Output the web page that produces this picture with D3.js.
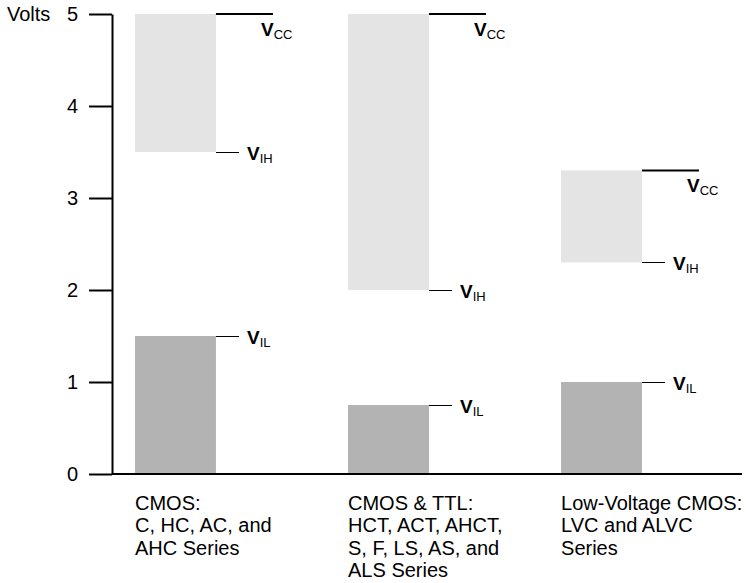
<!DOCTYPE html>
<html>
<head>
<meta charset="utf-8">
<script src="https://cdn.jsdelivr.net/npm/d3@7"></script>
<style>
  body { margin: 0; background: #fff; }
  svg { display: block; font-family: "Liberation Sans", Arial, Helvetica, sans-serif; }
</style>
</head>
<body>
<div id="chart"></div>
<script>
// Chart data
const categories = ["CMOS", "CMOS & TTL", "Low-Voltage CMOS"];
const categoryLines = [
    ["CMOS:", "C, HC, AC, and", "AHC Series"],
    ["CMOS & TTL:", "HCT, ACT, AHCT,", "S, F, LS, AS, and", "ALS Series"],
    ["Low-Voltage CMOS:", "LVC and ALVC", "Series"]
];
const vccValues = [5, 5, 3.3];
const vihValues = [3.5, 2, 2.3];
const vilValues = [1.5, 0.75, 1.0];
const yTicks = [0, 1, 2, 3, 4, 5];

const width = 746, height = 583;
const lightGray = '#e4e4e4', darkGray = '#b3b3b3';

const svg = d3.select('#chart')
    .append('svg')
    .attr('width', width)
    .attr('height', height);

// Scales
const yScale = d3.scaleLinear()
    .domain([0, 5])
    .range([474, 14]);

const xScale = d3.scaleBand()
    .domain(categories)
    .range([135, 642])
    .paddingInner(0.62)
    .paddingOuter(0);

const bw = xScale.bandwidth();

// High (light) bars: VIH up to VCC
svg.selectAll('.high-bar')
    .data(categories)
    .join('rect')
    .attr('class', 'high-bar')
    .attr('x', d => xScale(d))
    .attr('width', bw)
    .attr('y', (d, i) => yScale(vccValues[i]))
    .attr('height', (d, i) => yScale(vihValues[i]) - yScale(vccValues[i]))
    .attr('fill', lightGray);

// Low (dark) bars: 0 up to VIL
svg.selectAll('.low-bar')
    .data(categories)
    .join('rect')
    .attr('class', 'low-bar')
    .attr('x', d => xScale(d))
    .attr('width', bw)
    .attr('y', (d, i) => yScale(vilValues[i]))
    .attr('height', (d, i) => yScale(0) - yScale(vilValues[i]))
    .attr('fill', darkGray);

// Level marker lines and labels
function addLabel(x, y, sub) {
    const t = svg.append('text')
        .attr('x', x)
        .attr('y', y)
        .attr('fill', '#000');
    t.append('tspan')
        .attr('font-weight', 'bold')
        .attr('font-size', 19)
        .text('V');
    t.append('tspan')
        .attr('font-size', 13)
        .attr('dy', 3)
        .text(sub);
}

categories.forEach((c, i) => {
    const x1 = xScale(c) + bw;

    // VCC line (long, thick)
    const xc = x1 + 57;
    svg.append('line')
        .attr('x1', x1).attr('x2', xc)
        .attr('y1', yScale(vccValues[i])).attr('y2', yScale(vccValues[i]))
        .attr('stroke', '#000')
        .attr('stroke-width', 2);
    addLabel(xc - 12, yScale(vccValues[i]) + 22, 'CC');

    // VIH and VIL lines (short, thin)
    [[vihValues[i], 'IH'], [vilValues[i], 'IL']].forEach(([v, sub]) => {
        svg.append('line')
            .attr('x1', x1).attr('x2', x1 + 23)
            .attr('y1', yScale(v)).attr('y2', yScale(v))
            .attr('stroke', '#000')
            .attr('stroke-width', 1)
            .attr('shape-rendering', 'crispEdges');
        addLabel(x1 + 31, yScale(v) + 8, sub);
    });
});

// Y axis
const yAxis = d3.axisLeft(yScale)
    .tickValues(yTicks)
    .tickFormat(d3.format('d'))
    .tickSize(23)
    .tickSizeOuter(0)
    .tickPadding(11);

const yAxisG = svg.append('g')
    .attr('class', 'y-axis')
    .attr('transform', 'translate(112,0)')
    .call(yAxis);

yAxisG.select('.domain').attr('stroke-width', 2);
yAxisG.selectAll('.tick line').attr('stroke-width', 2);
yAxisG.selectAll('.tick text')
    .style('font-size', '20px')
    .style('font-family', '"Liberation Sans", Arial, Helvetica, sans-serif');

// X axis baseline
svg.append('line')
    .attr('x1', 112).attr('x2', 742)
    .attr('y1', yScale(0)).attr('y2', yScale(0))
    .attr('stroke', '#000')
    .attr('stroke-width', 2);

// Y axis label
svg.append('text')
    .attr('x', 7)
    .attr('y', 21)
    .style('font-size', '20px')
    .text('Volts');

// Category labels
categories.forEach((c, i) => {
    const t = svg.append('text')
        .attr('x', xScale(c))
        .attr('y', 510)
        .style('font-size', '20px');
    categoryLines[i].forEach((line, j) => {
        t.append('tspan')
            .attr('x', xScale(c))
            .attr('dy', j === 0 ? 0 : 22.3)
            .text(line);
    });
});
</script>
</body>
</html>
